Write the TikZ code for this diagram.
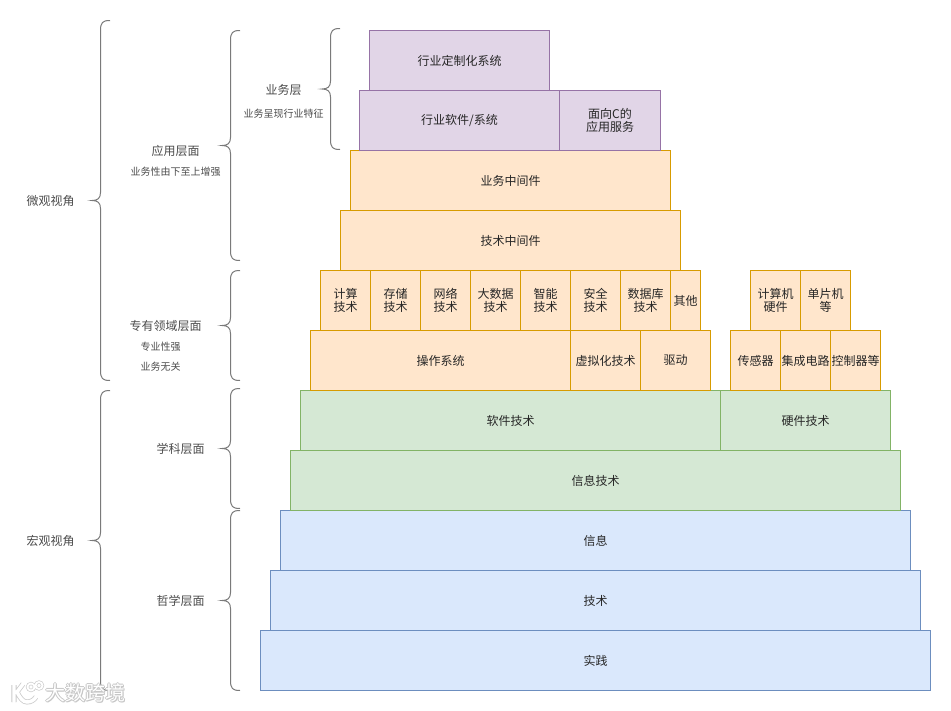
\documentclass[tikz,border=0pt]{standalone}
\usepackage{fontspec}
\setmainfont{Noto Sans CJK SC}
\tikzset{
  x=0.75pt,y=-0.75pt,
  base/.style={draw,line width=0.75pt,inner sep=0pt,align=center,font=\fontsize{9}{10}\selectfont,text=black!85},
  purplebox/.style={base,fill=purpleF,draw=purpleD},
  orangebox/.style={base,fill=orangeF,draw=orangeD},
  greenbox/.style={base,fill=greenF,draw=greenD},
  bluebox/.style={base,fill=blueF,draw=blueD},
  biglabel/.style={inner sep=0pt,align=center,font=\fontsize{9}{11}\selectfont,text=black!70},
  smalllabel/.style={inner sep=0pt,align=center,font=\fontsize{7.5}{9}\selectfont,text=black!70},
  bracepath/.style={draw=black!52,line width=0.75pt,fill=none},
  wmshadow/.style={inner sep=0pt,font=\fontsize{15}{16}\selectfont,text=black!22},
  wmtext/.style={inner sep=0pt,font=\fontsize{15}{16}\selectfont,text=white},
}
\definecolor{purpleF}{HTML}{E1D5E7}\definecolor{purpleD}{HTML}{9673A6}
\definecolor{orangeF}{HTML}{FFE6CC}\definecolor{orangeD}{HTML}{D79B00}
\definecolor{greenF}{HTML}{D5E8D4}\definecolor{greenD}{HTML}{82B366}
\definecolor{blueF}{HTML}{DAE8FC}\definecolor{blueD}{HTML}{6C8EBF}
% name, style, x1, y1, x2, y2, text
\newcommand{\pbox}[7]{%
  \pgfmathsetmacro{\pw}{(#5-#3)*0.75}%
  \pgfmathsetmacro{\ph}{(#6-#4)*0.75}%
  \node[#2,minimum width=\pw pt,minimum height=\ph pt] (#1) at ({(#3+#5)/2+0.5},{(#4+#6)/2+0.5}) {#7};}
% tip x, spine x, end x, top y, mid y, bottom y
\newcommand{\pbrace}[6]{%
  \draw[bracepath] (#3,#4) .. controls ({#2+2},#4) and (#2,{#4+2}) .. (#2,{#4+10})
    -- (#2,{#5-8}) .. controls (#2,{#5-2}) and ({#2-3},#5) .. (#1,#5)
    .. controls ({#2-3},#5) and (#2,{#5+2}) .. (#2,{#5+8})
    -- (#2,{#6-10}) .. controls (#2,{#6-2}) and ({#2+2},#6) .. (#3,#6);}
\begin{document}
\begin{tikzpicture}
\useasboundingbox (0,0) rectangle (951,711);
\fill[white] (0,0) rectangle (951,711);
% blue
\pbox{shijian}{bluebox}{260}{630}{930}{690}{实践}
\pbox{jishu}{bluebox}{270}{570}{920}{630}{技术}
\pbox{xinxi}{bluebox}{280}{510}{910}{570}{信息}
% green
\pbox{xxjs}{greenbox}{290}{450}{900}{510}{信息技术}
\pbox{rjjs}{greenbox}{300}{390}{720}{450}{软件技术}
\pbox{yjjs}{greenbox}{720}{390}{890}{450}{硬件技术}
% orange lower rows
\pbox{czxt}{orangebox}{310}{330}{570}{390}{操作系统}
\pbox{xnh}{orangebox}{570}{330}{640}{390}{虚拟化技术}
\pbox{qd}{orangebox}{640}{330}{710}{390}{驱动}
\pbox{cgq}{orangebox}{730}{330}{780}{390}{传感器}
\pbox{jcdl}{orangebox}{780}{330}{830}{390}{集成电路}
\pbox{kzq}{orangebox}{830}{330}{880}{390}{控制器等}
% orange upper row
\pbox{js}{orangebox}{320}{270}{370}{330}{计算\\技术}
\pbox{cc}{orangebox}{370}{270}{420}{330}{存储\\技术}
\pbox{wl}{orangebox}{420}{270}{470}{330}{网络\\技术}
\pbox{dsj}{orangebox}{470}{270}{520}{330}{大数据\\技术}
\pbox{zn}{orangebox}{520}{270}{570}{330}{智能\\技术}
\pbox{aq}{orangebox}{570}{270}{620}{330}{安全\\技术}
\pbox{sjk}{orangebox}{620}{270}{670}{330}{数据库\\技术}
\pbox{qt}{orangebox}{670}{270}{700}{330}{其他}
\pbox{jsj}{orangebox}{750}{270}{800}{330}{计算机\\硬件}
\pbox{dpj}{orangebox}{800}{270}{850}{330}{单片机\\等}
% middleware
\pbox{jszj}{orangebox}{340}{210}{680}{270}{技术中间件}
\pbox{ywzj}{orangebox}{350}{150}{670}{210}{业务中间件}
% purple
\pbox{hyrj}{purplebox}{359}{90}{559}{150}{行业软件/系统}
\pbox{mxc}{purplebox}{559}{90}{660}{150}{面向C的\\应用服务}
\pbox{hydz}{purplebox}{369}{30}{549}{90}{行业定制化系统}
% braces
\pbrace{92}{100.5}{110}{20.5}{200.5}{380.5}
\pbrace{92}{100.5}{110}{390.5}{540.5}{690.5}
\pbrace{222}{230.5}{240}{30.5}{145.5}{260.5}
\pbrace{222}{230.5}{240}{270.5}{325.5}{380.5}
\pbrace{222}{230.5}{240}{388.5}{448.5}{508.5}
\pbrace{222}{230.5}{240}{510.5}{600.5}{690.5}
\pbrace{322}{330.5}{340}{28.5}{89}{149.5}
% labels
\node[biglabel] (weiguan) at (50.5,200.7) {微观视角};
\node[biglabel] (hongguan) at (50.5,540.7) {宏观视角};
\node[biglabel] (yingyong) at (175.5,150.7) {应用层面};
\node[smalllabel] (yingyongs) at (175.5,171.5) {业务性由下至上增强};
\node[biglabel] (yewu) at (283.5,89.7) {业务层};
\node[smalllabel] (yewus) at (283.5,113.5) {业务呈现行业特征};
\node[biglabel] (zhuanyou) at (165.5,325.7) {专有领域层面};
\node[smalllabel] (zhuanyous) at (160.5,346.5) {专业性强};
\node[smalllabel] (wuguan) at (160.5,366.5) {业务无关};
\node[biglabel] (xueke) at (180.5,448.7) {学科层面};
\node[biglabel] (zhexue) at (180.5,600.7) {哲学层面};
% watermark
\foreach \dx/\dy in {-1/0,1/0,0/-1,0/1,1/1}{
  \node[wmshadow] at ({85.5+\dx},{693+\dy}) {大数跨境};
}
\node[wmtext] (wm) at (85.5,693) {大数跨境};
\draw[white,line width=2.6pt,line cap=round,preaction={draw=black!20,line width=3.8pt}]
  (14,685) -- (14,702) (23,684) -- (17,692) .. controls (20,698) and (23,702) .. (27,702) .. controls (31,702) and (34,700) .. (36,697);
\draw[white,line width=1.4pt,preaction={draw=black!20,line width=2.4pt}]
  (31,687) circle[radius=3.5] (39,685.5) circle[radius=3.5];
\end{tikzpicture}
\end{document}
